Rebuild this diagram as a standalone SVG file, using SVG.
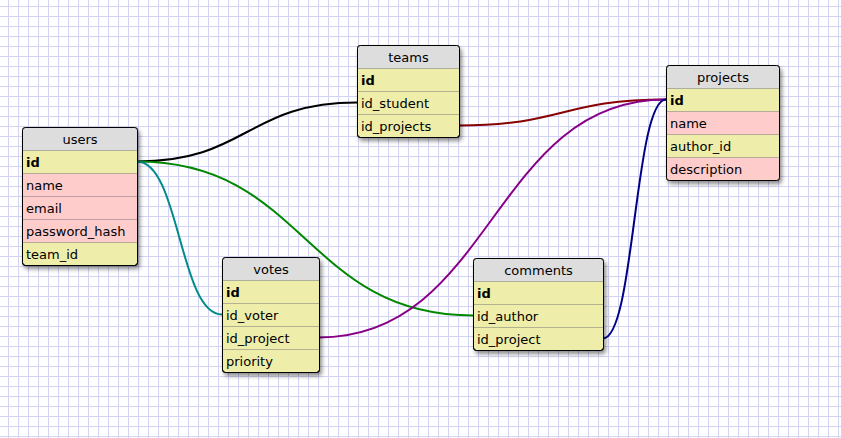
<svg xmlns="http://www.w3.org/2000/svg" width="841" height="438" viewBox="0 0 841 438">
<defs>
<pattern id="grid" x="8" y="6" width="10" height="10" patternUnits="userSpaceOnUse">
<path d="M0 0.5H10M0.5 0V10" stroke="#d3d3f3" stroke-width="1" fill="none"/>
</pattern>
<filter id="sh" x="-10%" y="-10%" width="130%" height="130%">
<feDropShadow dx="2" dy="3" stdDeviation="2" flood-color="#000" flood-opacity="0.45"/>
</filter>
</defs>
<style>
.tb{fill:#eeeeaa;stroke:#000;stroke-width:1;filter:url(#sh)}
.hd{fill:#dddddd}
.y{fill:#eeeeaa}
.p{fill:#ffcccc}
.sep{stroke:#777;stroke-width:1;stroke-dasharray:1,1}
.fr{fill:none;stroke:#000;stroke-width:1}
text{font-family:"DejaVu Sans","Liberation Sans",sans-serif;font-size:13px;fill:#000}
.t{text-anchor:middle}
.b{font-weight:bold}
.c{fill:none;stroke-width:2}
</style>
<rect width="841" height="438" fill="#fff"/>
<rect width="841" height="438" fill="url(#grid)"/>
<g id="connectors">
<path class="c" stroke="#000" d="M137 161.5C247 161.5 247 102.5 357 102.5"/>
<path class="c" stroke="#008800" d="M137 161.5C305 161.5 305 315.5 473 315.5"/>
<path class="c" stroke="#008b8b" d="M137 161.5C179.5 161.5 179.5 314.5 222 314.5"/>
<path class="c" stroke="#880000" d="M459 125.5C562.5 125.5 562.5 99.5 666 99.5"/>
<path class="c" stroke="#880088" d="M319 337.5C492.5 337.5 492.5 99.5 666 99.5"/>
<path class="c" stroke="#000088" d="M603 338.5C634.5 338.5 634.5 99.5 666 99.5"/>
</g>
<g id="users">
<rect class="tb" x="22.5" y="127.5" width="115" height="138" rx="3"/>
<path class="hd" d="M25.5 127.5H134.5A3 3 0 0 1 137.5 130.5V150.5H22.5V130.5A3 3 0 0 1 25.5 127.5Z"/>
<rect class="p" x="22.5" y="173.5" width="115" height="69"/>
<path class="sep" d="M22.5 150.5H137.5M22.5 173.5H137.5M22.5 196.5H137.5M22.5 219.5H137.5M22.5 242.5H137.5"/>
<rect class="fr" x="22.5" y="127.5" width="115" height="138" rx="3"/>
<text class="t" x="80" y="144">users</text>
<text class="b" x="26" y="167">id</text>
<text x="26" y="190">name</text>
<text x="26" y="213">email</text>
<text x="26" y="236">password_hash</text>
<text x="26" y="259">team_id</text>
</g>
<g id="teams">
<rect class="tb" x="357.5" y="45.5" width="102" height="92" rx="3"/>
<path class="hd" d="M360.5 45.5H456.5A3 3 0 0 1 459.5 48.5V68.5H357.5V48.5A3 3 0 0 1 360.5 45.5Z"/>
<path class="sep" d="M357.5 68.5H459.5M357.5 91.5H459.5M357.5 114.5H459.5"/>
<rect class="fr" x="357.5" y="45.5" width="102" height="92" rx="3"/>
<text class="t" x="408.5" y="62">teams</text>
<text class="b" x="361" y="85">id</text>
<text x="361" y="108">id_student</text>
<text x="361" y="131">id_projects</text>
</g>
<g id="projects">
<rect class="tb" x="666.5" y="65.5" width="113" height="115" rx="3"/>
<path class="hd" d="M669.5 65.5H776.5A3 3 0 0 1 779.5 68.5V88.5H666.5V68.5A3 3 0 0 1 669.5 65.5Z"/>
<rect class="p" x="666.5" y="111.5" width="113" height="23"/>
<path class="p" d="M666.5 157.5H779.5V177.5A3 3 0 0 1 776.5 180.5H669.5A3 3 0 0 1 666.5 177.5Z"/>
<path class="sep" d="M666.5 88.5H779.5M666.5 111.5H779.5M666.5 134.5H779.5M666.5 157.5H779.5"/>
<rect class="fr" x="666.5" y="65.5" width="113" height="115" rx="3"/>
<text class="t" x="723" y="82">projects</text>
<text class="b" x="670" y="105">id</text>
<text x="670" y="128">name</text>
<text x="670" y="151">author_id</text>
<text x="670" y="174">description</text>
</g>
<g id="votes">
<rect class="tb" x="222.5" y="257.5" width="97" height="115" rx="3"/>
<path class="hd" d="M225.5 257.5H316.5A3 3 0 0 1 319.5 260.5V280.5H222.5V260.5A3 3 0 0 1 225.5 257.5Z"/>
<path class="sep" d="M222.5 280.5H319.5M222.5 303.5H319.5M222.5 326.5H319.5M222.5 349.5H319.5"/>
<rect class="fr" x="222.5" y="257.5" width="97" height="115" rx="3"/>
<text class="t" x="271" y="274">votes</text>
<text class="b" x="226" y="297">id</text>
<text x="226" y="320">id_voter</text>
<text x="226" y="343">id_project</text>
<text x="226" y="366">priority</text>
</g>
<g id="comments">
<rect class="tb" x="473.5" y="258.5" width="130" height="92" rx="3"/>
<path class="hd" d="M476.5 258.5H600.5A3 3 0 0 1 603.5 261.5V281.5H473.5V261.5A3 3 0 0 1 476.5 258.5Z"/>
<path class="sep" d="M473.5 281.5H603.5M473.5 304.5H603.5M473.5 327.5H603.5"/>
<rect class="fr" x="473.5" y="258.5" width="130" height="92" rx="3"/>
<text class="t" x="538.5" y="275">comments</text>
<text class="b" x="477" y="298">id</text>
<text x="477" y="321">id_author</text>
<text x="477" y="344">id_project</text>
</g>
</svg>
